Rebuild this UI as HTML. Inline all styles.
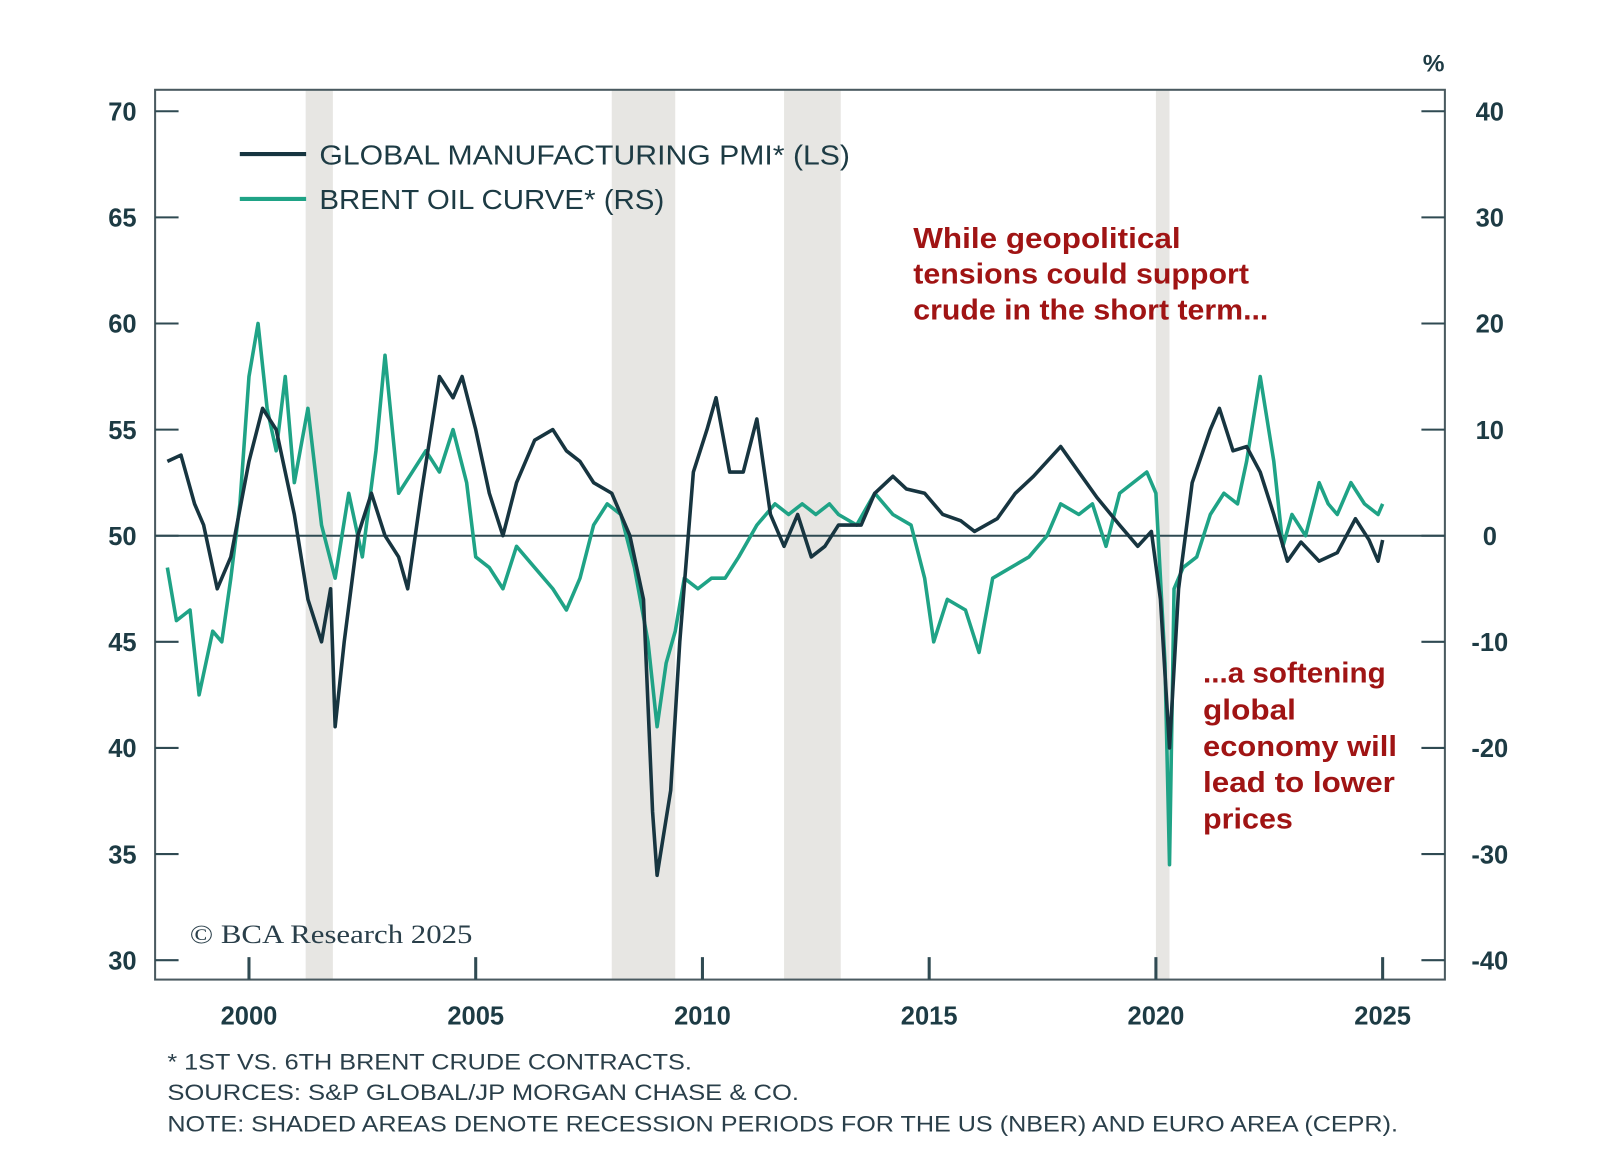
<!DOCTYPE html>
<html><head><meta charset="utf-8">
<style>
body{margin:0;background:#fff;width:1600px;height:1151px;overflow:hidden;font-family:"Liberation Sans",sans-serif;}
svg text{font-family:"Liberation Sans",sans-serif;}
</style></head>
<body>
<svg id="chart" width="1600" height="1151" xmlns="http://www.w3.org/2000/svg">
<g transform="scale(1.0204)">
<g id="shade"></g>
<rect x="152" y="88" width="1264" height="872" fill="none" stroke="#4a5a60" stroke-width="2"/>
<g id="axes"></g>
<g id="series"></g>
<text x="1405" y="70" font-size="24" font-weight="bold" fill="#1d3b44" text-anchor="middle">%</text>
<g>
<line x1="235" y1="151" x2="300" y2="151" stroke="#173540" stroke-width="4"/>
<text x="313" y="161" font-size="27" fill="#1d3b44" textLength="520" lengthAdjust="spacingAndGlyphs">GLOBAL MANUFACTURING PMI* (LS)</text>
<line x1="235" y1="195" x2="300" y2="195" stroke="#1fa386" stroke-width="4"/>
<text x="313" y="205" font-size="27" fill="#1d3b44" textLength="338" lengthAdjust="spacingAndGlyphs">BRENT OIL CURVE* (RS)</text>
</g>
<g font-size="28" fill="#a01414" font-weight="bold">
<text x="895" y="243" textLength="262" lengthAdjust="spacingAndGlyphs">While geopolitical</text>
<text x="895" y="278" textLength="329" lengthAdjust="spacingAndGlyphs">tensions could support</text>
<text x="895" y="313" textLength="348" lengthAdjust="spacingAndGlyphs">crude in the short term...</text>
</g>
<g font-size="28" fill="#a01414" font-weight="bold">
<text x="1179" y="669" textLength="179" lengthAdjust="spacingAndGlyphs">...a softening</text>
<text x="1179" y="705" textLength="91" lengthAdjust="spacingAndGlyphs">global</text>
<text x="1179" y="741" textLength="190" lengthAdjust="spacingAndGlyphs">economy will</text>
<text x="1179" y="776" textLength="188" lengthAdjust="spacingAndGlyphs">lead to lower</text>
<text x="1179" y="812" textLength="88" lengthAdjust="spacingAndGlyphs">prices</text>
</g>
<text x="186" y="924" font-size="26" fill="#2a3f4a" style="font-family:'Liberation Serif',serif" textLength="277" lengthAdjust="spacingAndGlyphs">© BCA Research 2025</text>
<g font-size="22" fill="#2a3f4a">
<text x="164" y="1048" textLength="514" lengthAdjust="spacingAndGlyphs">* 1ST VS. 6TH BRENT CRUDE CONTRACTS.</text>
<text x="164" y="1078" textLength="619" lengthAdjust="spacingAndGlyphs">SOURCES: S&amp;P GLOBAL/JP MORGAN CHASE &amp; CO.</text>
<text x="164" y="1109" textLength="1206" lengthAdjust="spacingAndGlyphs">NOTE: SHADED AREAS DENOTE RECESSION PERIODS FOR THE US (NBER) AND EURO AREA (CEPR).</text>
</g>
</g>
</svg>
<script>
const leftTicks=[30,35,40,45,50,55,60,65,70];
const rightTicks=[-40,-30,-20,-10,0,10,20,30,40];
const yearTicks=[2000,2005,2010,2015,2020,2025];
const recessions=[[2001.25,2001.85],[2008.0,2009.4],[2011.8,2013.05],[2020.0,2020.3]];
const pmiX=[1998.2,1998.5,1998.8,1999.0,1999.3,1999.6,2000.0,2000.3,2000.6,2001.0,2001.3,2001.6,2001.8,2001.9,2002.1,2002.4,2002.7,2003.0,2003.3,2003.5,2003.8,2004.2,2004.5,2004.7,2005.0,2005.3,2005.6,2005.9,2006.3,2006.7,2007.0,2007.3,2007.6,2008.0,2008.4,2008.7,2008.9,2009.0,2009.3,2009.5,2009.8,2010.1,2010.3,2010.6,2010.9,2011.2,2011.5,2011.8,2012.1,2012.4,2012.7,2013.0,2013.5,2013.8,2014.2,2014.5,2014.9,2015.3,2015.7,2016.0,2016.5,2016.9,2017.3,2017.9,2018.3,2018.7,2019.2,2019.6,2019.9,2020.1,2020.3,2020.5,2020.8,2021.2,2021.4,2021.7,2022.0,2022.3,2022.6,2022.9,2023.2,2023.6,2024.0,2024.4,2024.7,2024.9,2025.0];
const pmiY=[53.5,53.8,51.5,50.5,47.5,49,53.5,56,55,51,47,45,47.5,41,45,50,52,50,49,47.5,52,57.5,56.5,57.5,55,52,50,52.5,54.5,55,54,53.5,52.5,52,50,47,37,34,38,45,53,55,56.5,53,53,55.5,51,49.5,51,49,49.5,50.5,50.5,52,52.8,52.2,52,51,50.7,50.2,50.8,52,52.8,54.2,53,51.8,50.5,49.5,50.2,47,40,47.5,52.5,55,56,54,54.2,53,51,48.8,49.7,48.8,49.2,50.8,49.8,48.8,49.8];
const brentX=[1998.2,1998.4,1998.7,1998.9,1999.2,1999.4,1999.6,1999.8,2000.0,2000.2,2000.4,2000.6,2000.8,2001.0,2001.3,2001.6,2001.9,2002.2,2002.5,2002.8,2003.0,2003.3,2003.6,2003.9,2004.2,2004.5,2004.8,2005.0,2005.3,2005.6,2005.9,2006.3,2006.7,2007.0,2007.3,2007.6,2007.9,2008.2,2008.5,2008.8,2009.0,2009.2,2009.4,2009.6,2009.9,2010.2,2010.5,2010.8,2011.2,2011.6,2011.9,2012.2,2012.5,2012.8,2013.0,2013.4,2013.8,2014.2,2014.6,2014.9,2015.1,2015.4,2015.8,2016.1,2016.4,2016.8,2017.2,2017.6,2017.9,2018.3,2018.6,2018.9,2019.2,2019.5,2019.8,2020.0,2020.2,2020.3,2020.4,2020.6,2020.9,2021.2,2021.5,2021.8,2022.0,2022.3,2022.6,2022.8,2023.0,2023.3,2023.6,2023.8,2024.0,2024.3,2024.6,2024.9,2025.0];
const brentY=[-3,-8,-7,-15,-9,-10,-4,3,15,20,12,8,15,5,12,1,-4,4,-2,8,17,4,6,8,6,10,5,-2,-3,-5,-1,-3,-5,-7,-4,1,3,2,-3,-10,-18,-12,-9,-4,-5,-4,-4,-2,1,3,2,3,2,3,2,1,4,2,1,-4,-10,-6,-7,-11,-4,-3,-2,0,3,2,3,-1,4,5,6,4,-12,-31,-5,-3,-2,2,4,3,7,15,7,-1,2,0,5,3,2,5,3,2,3];
const NS="http://www.w3.org/2000/svg";
const xS=y=>244+(y-2000)*(1355-244)/25;
const yL=v=>109+(70-v)*(941-109)/40;
const yR=v=>525-v*(941-109)/80;
function mk(t,a,p){const e=document.createElementNS(NS,t);for(const k in a)e.setAttribute(k,a[k]);p.appendChild(e);return e;}
const shade=document.getElementById('shade');
recessions.forEach(r=>{const e=mk('rect',{x:xS(r[0]),y:88,width:xS(r[1])-xS(r[0]),height:872,fill:'#e7e6e3'},shade);

});
const ax=document.getElementById('axes');
mk('line',{x1:152,x2:1416,y1:yL(50),y2:yL(50),stroke:'#2f4a52','stroke-width':2},ax);
leftTicks.forEach(v=>{mk('line',{x1:152,x2:175,y1:yL(v),y2:yL(v),stroke:'#2f4a52','stroke-width':2},ax);
const t=mk('text',{x:120,y:yL(v)+9,'font-size':25,'font-weight':'bold',fill:'#1d3b44','text-anchor':'middle'},ax);t.textContent=v;

});
rightTicks.forEach(v=>{mk('line',{x1:1393,x2:1416,y1:yR(v),y2:yR(v),stroke:'#2f4a52','stroke-width':2},ax);
const t=mk('text',{x:1460,y:yR(v)+9,'font-size':25,'font-weight':'bold',fill:'#1d3b44','text-anchor':'middle'},ax);t.textContent=v;

});
yearTicks.forEach(v=>{mk('line',{x1:xS(v),x2:xS(v),y1:938,y2:960,stroke:'#2f4a52','stroke-width':3},ax);
const t=mk('text',{x:xS(v),y:1004,'font-size':25,'font-weight':'bold',fill:'#1d3b44','text-anchor':'middle'},ax);t.textContent=v;

});
const se=document.getElementById('series');
const b=mk('polyline',{points:brentX.map((x,i)=>xS(x)+','+yR(brentY[i])).join(' '),fill:'none',stroke:'#1fa386','stroke-width':3.5,'stroke-linejoin':'round'},se);


const p=mk('polyline',{points:pmiX.map((x,i)=>xS(x)+','+yL(pmiY[i])).join(' '),fill:'none',stroke:'#173540','stroke-width':3.5,'stroke-linejoin':'round'},se);


</script>
</body></html>
